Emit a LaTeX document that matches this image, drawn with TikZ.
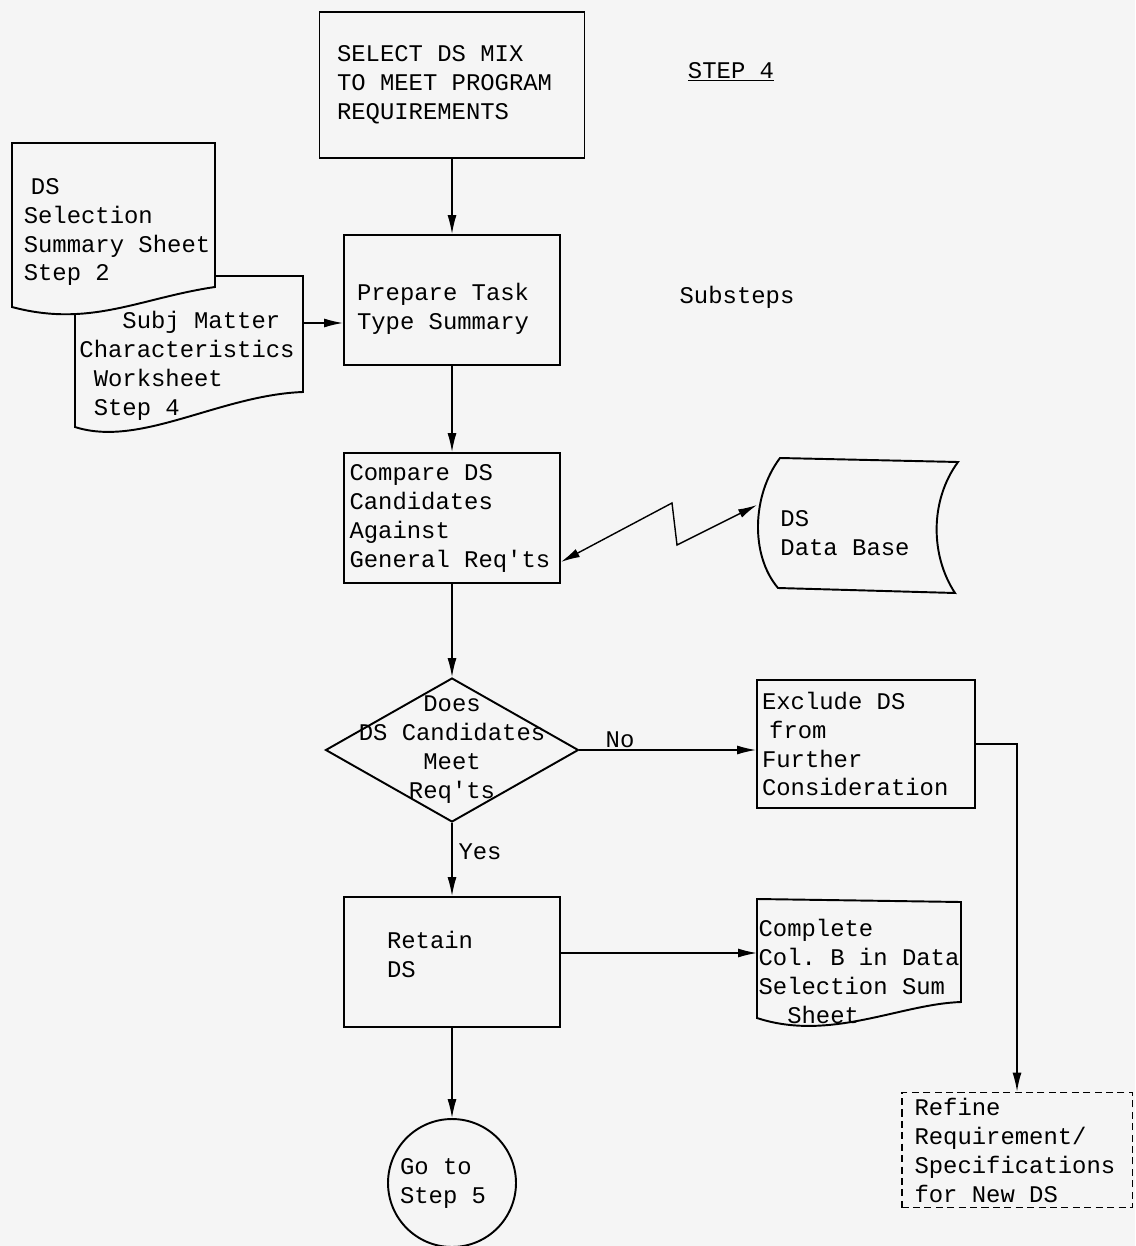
\documentclass[tikz,border=0pt]{standalone}
\usepackage{fontspec}
\newfontfamily\tw{Liberation Mono}[WordSpace={1,0,0}]
\usetikzlibrary{shapes, arrows.meta}

\begin{document}
\begin{tikzpicture}[x=0.02cm, y=-0.02cm,
  every node/.style={font=\tw\fontsize{13.6}{16.5}\selectfont\frenchspacing, execute at begin node={\spaceskip=0pt\xspaceskip=0pt}},
  box/.style={draw, rectangle, line width=1.1pt, align=left, inner sep=2pt},
  doc/.style={draw, line width=1.1pt, fill=black!4},
  txt/.style={align=left, inner sep=0pt},
  flow/.style={line width=0.8pt, -{Latex[length=3.8mm, width=1.8mm]}},
  twoway/.style={line width=0.8pt, {Latex[length=3.8mm, width=1.8mm]}-{Latex[length=3.8mm, width=1.8mm]}}]
  \path[use as bounding box, fill=black!4] (0,0) rectangle (1135,1246);
  \node[box, minimum width=5.3cm, minimum height=2.92cm, text width=4.6cm] (select) at (452,85) {SELECT DS MIX\\TO MEET PROGRAM\\REQUIREMENTS};
  \node (step) at (731,72) {\underline{STEP 4}};
  \node[box, minimum width=4.32cm, minimum height=2.6cm, text width=3.8cm, text height=0.7cm] (prepare) at (452,300) {Prepare Task\\Type Summary};
  \node (substeps) at (737,297) {Substeps};
  \node[box, minimum width=4.32cm, minimum height=2.6cm, text width=4.1cm] (compare) at (452,518) {Compare DS\\Candidates\\Against\\General Req\textquotesingle ts};
  \node[draw, diamond, line width=1.1pt, minimum width=5.06cm, minimum height=2.88cm, inner sep=0pt] (meet) at (452,750) {};
  \node[txt, align=center] (meettxt) at (meet) {Does\\DS Candidates\\Meet\\Req\textquotesingle ts};
  \node[box, minimum width=4.36cm, minimum height=2.56cm, text width=4.16cm] (exclude) at (866,744) {Exclude DS\\\hspace*{0.3em}from\\Further\\Consideration};
  \node[box, minimum width=4.32cm, minimum height=2.6cm, text width=2.6cm, text depth=0.89cm] (retain) at (452,962) {Retain\\DS};
  \node[draw, circle, line width=1.1pt, minimum size=2.56cm, text width=2.08cm, align=left, inner sep=0pt] (goto) at (452,1183) {Go to\\Step 5};
  \node[box, dash pattern=on 4pt off 2.5pt, minimum width=4.62cm, minimum height=2.3cm, text width=4.1cm, inner ysep=1pt] (refine) at (1017,1150) {Refine\\Requirement/\\Specifications\\for New DS};

  \draw[doc] (75,276) -- (303,276) -- (303,392) .. controls (220,395) and (140,448) .. (75,427) -- cycle;
  \node[txt] (matter) at (187,366) {\hspace*{1.8em}Subj Matter\\Characteristics\\\hspace*{0.6em}Worksheet\\\hspace*{0.6em}Step 4};
  \coordinate (matterout) at (303,323);
  \draw[doc] (12,143) -- (215,143) -- (215,287) .. controls (140,298) and (90,328) .. (12,307) -- cycle;
  \node[txt] (summary) at (117,232) {\hspace*{0.3em}DS\\Selection\\Summary Sheet\\Step 2};

  \draw[line width=1.1pt] (780,458) -- (958,462) .. controls (930,500) and (930,555) .. (955,593) -- (778,588) .. controls (750,555) and (752,495) .. (780,458) -- cycle;
  \coordinate (dbin) at (757,505);
  \node[txt] (database) at (845,533) {DS\\Data Base};

  \draw[line width=1.1pt] (757,899) -- (961,902) -- (961,1002) .. controls (900,1004) and (830,1042) .. (757,1018) -- cycle;
  \coordinate (cplin) at (757,953);
  \node[txt] (complete) at (859,971) {Complete\\Col. B in Data\\Selection Sum\\\hspace*{1.2em}Sheet};

  \draw[flow] (select) -- (prepare);
  \draw[flow] (matterout) -- (prepare.west |- matterout);
  \draw[flow] (prepare) -- (compare);
  \draw[twoway] ([yshift=0.44cm]compare.south east) -- (672,503) -- (677,545) -- (dbin);
  \draw[flow] (compare) -- (meet);
  \draw[flow] (meet) -- node[anchor=south, pos=0.23, inner sep=1pt] (no) {No} (exclude.west |- meet.east);
  \draw[flow] (meet) -- node[anchor=west, pos=0.4] (yes) {Yes} (retain);
  \draw[flow] (exclude) -| (refine);
  \draw[flow] (retain.east |- cplin) -- (cplin);
  \draw[flow] (retain) -- (goto);
\end{tikzpicture}
\end{document}
